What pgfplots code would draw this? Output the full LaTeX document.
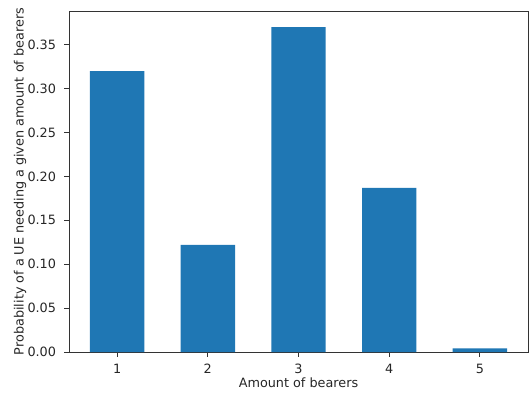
\documentclass[border=0pt]{standalone}
\usepackage{pgfplots}
\pgfplotsset{compat=1.18}
\usepackage{fontspec}
\setmainfont{DejaVu Sans}
\definecolor{barblue}{HTML}{1F77B4}
\begin{document}
\fontsize{12.8bp}{15bp}\selectfont
\begin{tikzpicture}
\begin{axis}[
  scale only axis,
  width=459bp, height=341bp,
  xmin=0.47, xmax=5.53,
  ymin=0, ymax=0.3885,
  ybar, bar width=0.6,
  axis line style={line width=0.9bp, black!80},
  xtick={1,2,3,4,5},
  ytick={0,0.05,0.10,0.15,0.20,0.25,0.30,0.35},
  tick align=outside,
  major tick length=4.5bp,
  tick style={line width=0.9bp, black!80},
  xtick pos=bottom, ytick pos=left,
  /pgf/number format/assume math mode=true,
  yticklabel style={/pgf/number format/fixed, /pgf/number format/fixed zerofill, /pgf/number format/precision=2},
  yticklabel style={anchor=east, xshift=-4bp},
  xticklabel style={anchor=north, yshift=-3bp},
  tick label style={font=\fontsize{12.8bp}{15bp}\selectfont, text=black!85},
  label style={font=\fontsize{12.8bp}{15bp}\selectfont, text=black!85},
  xlabel={Amount of bearers},
  ylabel={Probability of a UE needing a given amount of bearers},
  xlabel style={at={(axis description cs:0.5,0)}, anchor=center, yshift=-31bp},
  ylabel style={at={(axis description cs:0,0.5)}, anchor=center, rotate=0, yshift=49bp},
]
\addplot[fill=barblue, draw=none] coordinates {
  (1,0.320) (2,0.122) (3,0.370) (4,0.187) (5,0.004)
};
\end{axis}
\path[use as bounding box] ([shift={(-69bp,-42bp)}]current axis.south west) rectangle ([shift={(1bp,11bp)}]current axis.north east);
\end{tikzpicture}
\end{document}
